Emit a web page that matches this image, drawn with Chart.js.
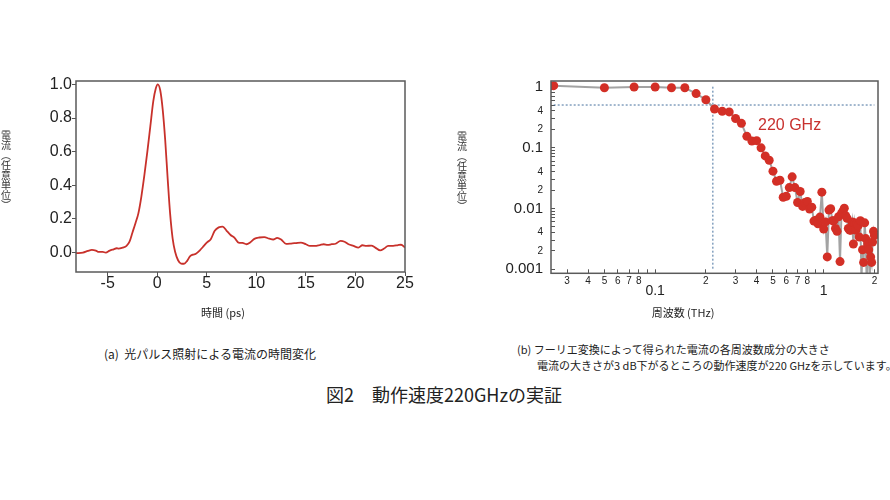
<!DOCTYPE html>
<html>
<head>
<meta charset="utf-8">
<script src="https://cdn.jsdelivr.net/npm/chart.js@4.4.0/dist/chart.umd.min.js"></script>
<style>
body { margin: 0; width: 890px; height: 500px; background: #fff; overflow: hidden; position: relative;
       font-family: "Noto Sans CJK JP", sans-serif; color: #222; }
.wrap { position: absolute; }
.vt { position: absolute; width: 12px; font-size: 10px; color: #333; text-align: center; }
.vt span { display: block; height: 10px; line-height: 10px; }
.txt { position: absolute; white-space: nowrap; line-height: 1; }
</style>
</head>
<body>
<div class="wrap" style="left:0;top:60px;"><canvas id="pulse" width="420" height="260"></canvas></div>
<div class="wrap" style="left:440px;top:60px;"><canvas id="spectrum" width="450" height="260"></canvas></div>

<div class="vt" style="left:0;top:130px;"><span>電</span><span>流</span><span>︵</span><span>任</span><span>意</span><span>単</span><span>位</span><span>︶</span></div>
<div class="vt" style="left:456px;top:131px;"><span>電</span><span>流</span><span>︵</span><span>任</span><span>意</span><span>単</span><span>位</span><span>︶</span></div>
<div class="txt" style="left:223px;top:307px;font-size:11px;transform:translateX(-50%);">時間 (ps)</div>
<div class="txt" style="left:683px;top:307px;font-size:11px;transform:translateX(-50%);">周波数 (THz)</div>
<div class="txt" style="left:758px;top:117px;font-family:'Liberation Sans';font-size:16px;color:#c8302d;">220 GHz</div>

<div class="txt" style="left:104px;top:348px;font-size:12px;">(a)&nbsp;&nbsp;光パルス照射による電流の時間変化</div>
<div class="txt" style="left:517px;top:344px;font-size:11px;">(b) フーリエ変換によって得られた電流の各周波数成分の大きさ</div>
<div class="txt" style="left:537px;top:360px;font-size:11px;">電流の大きさが3 dB下がるところの動作速度が220 GHzを示しています。</div>
<div class="txt" style="left:444px;top:385px;font-size:18px;transform:translateX(-50%);">図2　動作速度220GHzの実証</div>

<script>
// (a) current pulse vs time
const timePs = [-8.2, -7.5, -7.0, -6.6, -6.2, -5.9, -5.5, -5.2, -4.8, -4.4, -4.1, -3.9, -3.5, -3.1, -2.8, -2.5, -2.2, -1.9,
  -1.6, -1.3, -1.0, -0.7, -0.4, -0.15, 0.05, 0.3, 0.55, 0.8, 1.05, 1.3, 1.55, 1.8, 2.1, 2.4, 2.7, 3.0, 3.3, 3.6, 3.9,
  4.3, 4.7, 5.0, 5.4, 5.8, 6.2, 6.6, 7.0, 7.4, 7.8, 8.2, 8.6, 9.0, 9.4, 9.8, 10.3, 10.8, 11.3, 11.7, 12.1, 12.5, 13.0,
  13.5, 14.0, 14.5, 15.0, 15.4, 15.9, 16.4, 16.8, 17.2, 17.6, 18.0, 18.5, 18.9, 19.3, 19.8, 20.3, 20.7, 21.1, 21.6,
  22.0, 22.5, 22.9, 23.3, 23.8, 24.3, 24.6, 25.0];
const currentArb = [-0.003, 0.0, 0.01, 0.016, 0.012, 0.004, 0.005, 0.0, 0.012, 0.02, 0.026, 0.024, 0.03, 0.04, 0.065,
  0.12, 0.175, 0.235, 0.335, 0.46, 0.6, 0.75, 0.9, 0.975, 1.0, 0.965, 0.85, 0.67, 0.44, 0.23, 0.085, 0.005, -0.045,
  -0.065, -0.066, -0.05, -0.022, -0.012, -0.006, 0.014, 0.04, 0.06, 0.08, 0.13, 0.15, 0.155, 0.13, 0.105, 0.088, 0.06,
  0.058, 0.05, 0.062, 0.082, 0.09, 0.092, 0.083, 0.078, 0.088, 0.078, 0.052, 0.054, 0.057, 0.06, 0.05, 0.04, 0.04,
  0.045, 0.05, 0.046, 0.05, 0.053, 0.07, 0.065, 0.05, 0.04, 0.03, 0.044, 0.04, 0.042, 0.03, 0.013, 0.025, 0.04, 0.04,
  0.045, 0.047, 0.03];
const timeTicks = [-5, 0, 5, 10, 15, 20, 25];
const currentTicks = [0, 0.2, 0.4, 0.6, 0.8, 1.0];

// (b) spectrum
const freqTHz = [0.025, 0.05, 0.075, 0.1, 0.125, 0.15, 0.175, 0.2, 0.225, 0.25, 0.275, 0.3, 0.325, 0.35, 0.375, 0.4,
  0.425, 0.45, 0.475, 0.5, 0.525, 0.55, 0.575, 0.6, 0.625, 0.65, 0.675, 0.7, 0.725, 0.75, 0.775, 0.8, 0.825, 0.85,
  0.875, 0.9, 0.925, 0.95, 0.975, 1.0, 1.025, 1.05, 1.075, 1.1, 1.125, 1.15, 1.175, 1.2, 1.225, 1.25, 1.275, 1.3,
  1.325, 1.35, 1.375, 1.4, 1.425, 1.45, 1.475, 1.5, 1.525, 1.55, 1.575, 1.6, 1.625, 1.65, 1.675, 1.7, 1.725, 1.75,
  1.775, 1.8, 1.825, 1.85, 1.875, 1.9, 1.925, 1.95, 1.975, 2.0];
const amplitude = [1.04, 0.96, 0.99, 0.99, 0.96, 0.96, 0.77, 0.61, 0.43, 0.395,
  0.385, 0.30, 0.25, 0.153, 0.128, 0.13, 0.099, 0.073, 0.062, 0.041,
  0.028, 0.029, 0.0153, 0.0158, 0.022, 0.033, 0.022, 0.0125, 0.019, 0.0108,
  0.0125, 0.013, 0.0098, 0.0105, 0.0062, 0.0064, 0.0056, 0.0072, 0.0185, 0.0046,
  0.006, 0.0016, 0.0094, 0.0099, 0.0063, 0.0063, 0.0047, 0.0042, 0.0073, 0.00134,
  0.0083, 0.009, 0.0101, 0.0076, 0.0069, 0.0047, 0.0044, 0.0044, 0.006, 0.0026,
  0.0058, 0.0044, 0.0056, 0.0052, 0.0034, 0.0063, 0.0007, 0.0021, 0.0013, 0.0058,
  0.0032, 0.0006, 0.0026, 0.0021, 0.0007, 0.0016, 0.0013, 0.0028, 0.0042, 0.0036];
const cutoffFreq = [0.22, 0.22];
const cutoffLevel = [1.0, 0.001];
const halfFreq = [0.025, 2.0];
const halfLevel = [0.5, 0.5];
const freqTicks = [0.03, 0.04, 0.05, 0.06, 0.07, 0.08, 0.09, 0.1, 0.2, 0.3, 0.4, 0.5, 0.6, 0.7, 0.8, 0.9, 1, 2];
const freqTickLabels = ['3', '4', '5', '6', '7', '8', '', '0.1', '2', '3', '4', '5', '6', '7', '8', '', '1', '2'];
const ampTicks = [0.001, 0.002, 0.003, 0.004, 0.005, 0.006, 0.007, 0.008, 0.009,
  0.01, 0.02, 0.03, 0.04, 0.05, 0.06, 0.07, 0.08, 0.09,
  0.1, 0.2, 0.3, 0.4, 0.5, 0.6, 0.7, 0.8, 0.9, 1];
const ampTickLabels = ['0.001', '2', '', '4', '', '', '', '', '',
  '0.01', '2', '', '4', '', '', '', '', '',
  '0.1', '2', '', '4', '', '', '', '', '', '1'];

const FAMILY = 'Liberation Sans';

const frame = {
  id: 'frame',
  afterDatasetsDraw(chart) {
    const a = chart.chartArea, ctx = chart.ctx;
    ctx.save();
    ctx.strokeStyle = '#5a5a5a';
    ctx.lineWidth = 1.5;
    ctx.strokeRect(a.left, a.top, a.right - a.left, a.bottom - a.top);
    ctx.restore();
  }
};

function pts(xs, ys) {
  return xs.map((x, i) => ({ x: x, y: ys[i] }));
}

function isMajor(label) {
  return label.indexOf('.') >= 0 || label === '1';
}

new Chart(document.getElementById('pulse'), {
  type: 'line',
  data: {
    datasets: [{
      data: pts(timePs, currentArb),
      borderColor: '#c8312b',
      borderWidth: 1.8,
      pointRadius: 0,
      cubicInterpolationMode: 'monotone'
    }]
  },
  options: {
    responsive: false,
    animation: false,
    layout: { padding: { top: 21, right: 15, left: 0, bottom: 0 } },
    plugins: { legend: { display: false }, tooltip: { enabled: false } },
    scales: {
      x: {
        type: 'linear', min: -8.2, max: 25,
        afterBuildTicks: s => { s.ticks = timeTicks.map(v => ({ value: v })); },
        afterFit: s => { s.height = 48; },
        ticks: { font: { family: FAMILY, size: 16 }, color: '#222', padding: -2, maxRotation: 0 },
        grid: { drawOnChartArea: false, tickLength: 4, color: '#555' },
        border: { display: false }
      },
      y: {
        min: -0.115, max: 1.02,
        afterBuildTicks: s => { s.ticks = currentTicks.map(v => ({ value: v })); },
        afterFit: s => { s.width = 76; },
        ticks: { callback: v => v.toFixed(1), font: { family: FAMILY, size: 16 }, color: '#222', padding: 0 },
        grid: { drawOnChartArea: false, tickLength: 4, color: '#555' },
        border: { display: false }
      }
    }
  },
  plugins: [frame]
});

new Chart(document.getElementById('spectrum'), {
  type: 'line',
  data: {
    datasets: [{
      data: pts(freqTHz, amplitude),
      borderColor: '#a3a3a3',
      borderWidth: 2,
      pointRadius: 4.5,
      pointBorderWidth: 0,
      pointBackgroundColor: '#d32f26',
      order: 0
    }, {
      data: pts(halfFreq, halfLevel),
      borderColor: '#46709e',
      borderWidth: 1,
      borderDash: [2, 2],
      pointRadius: 0,
      order: 1
    }, {
      data: pts(cutoffFreq, cutoffLevel),
      borderColor: '#46709e',
      borderWidth: 1,
      borderDash: [2, 2],
      pointRadius: 0,
      order: 1
    }]
  },
  options: {
    responsive: false,
    animation: false,
    layout: { padding: { top: 21, right: 12, left: 0, bottom: 0 } },
    plugins: { legend: { display: false }, tooltip: { enabled: false } },
    scales: {
      x: {
        type: 'logarithmic', min: 0.0241, max: 2.10,
        afterBuildTicks: s => { s.ticks = freqTicks.map(v => ({ value: v })); },
        afterFit: s => { s.height = 46.7; },
        ticks: {
          autoSkip: false, maxRotation: 0, padding: 6.4, color: '#222',
          callback: (v, i) => isMajor(freqTickLabels[i]) ? ['', freqTickLabels[i]] : freqTickLabels[i],
          font: c => isMajor(freqTickLabels[c.index] || '') ?
            { family: FAMILY, size: 14, lineHeight: 0.75 } : { family: FAMILY, size: 10 }
        },
        grid: { drawOnChartArea: false, tickLength: -4, color: '#555' },
        border: { display: false }
      },
      y: {
        type: 'logarithmic', min: 0.00086, max: 1.24,
        afterBuildTicks: s => { s.ticks = ampTicks.map(v => ({ value: v })); },
        afterFit: s => { s.width = 111; },
        ticks: {
          autoSkip: false, padding: 12, color: '#222',
          callback: (v, i) => ampTickLabels[i],
          font: c => isMajor(ampTickLabels[c.index] || '') ?
            { family: FAMILY, size: 15 } : { family: FAMILY, size: 10 }
        },
        grid: { drawOnChartArea: false, tickLength: -4, color: '#555' },
        border: { display: false }
      }
    }
  },
  plugins: [frame]
});
</script>
</body>
</html>
